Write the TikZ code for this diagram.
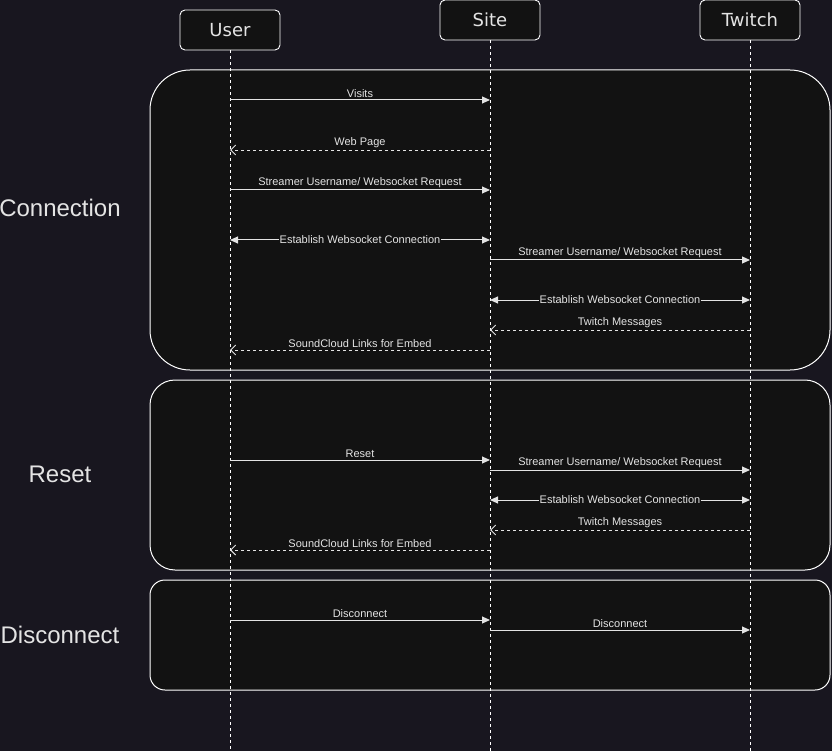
\documentclass[tikz,border=0pt]{standalone}
\usepackage{fontspec}
\setmainfont{Liberation Sans}
\newfontfamily\partfont{DejaVu Sans}
\usetikzlibrary{arrows.meta}
\definecolor{bgdark}{HTML}{18161F}
\definecolor{boxdark}{HTML}{121212}
\definecolor{inkgray}{HTML}{E4E4E4}
\begin{document}
\begin{tikzpicture}
		[x=1pt,y=-1pt,
		participant/.style={draw=white,line width=0.9pt,fill=boxdark,rounded corners=5pt,minimum width=100pt,minimum height=40pt,text=inkgray,font=\partfont\fontsize{18}{20}\selectfont},
		group/.style={draw=white,fill=boxdark,line width=1pt},
		grouplabel/.style={text=inkgray,font=\fontsize{24}{27}\selectfont},
		lifeline/.style={draw=white,dash pattern=on 3pt off 3pt,line width=0.8pt},
		msg/.style={draw=inkgray,line width=1pt,-{Triangle[length=8pt,width=7pt]}},
		both/.style={draw=inkgray,line width=1pt,{Triangle[length=8pt,width=7pt]}-{Triangle[length=8pt,width=7pt]}},
		reply/.style={draw=inkgray,line width=0.9pt,dash pattern=on 3pt off 3pt,-{Straight Barb[length=5pt,width=10pt]}},
		lbl/.style={midway,above,inner sep=1.5pt,text=inkgray,font=\fontsize{11}{13}\selectfont},
		onlbl/.style={midway,fill=boxdark,inner sep=0.5pt,text=inkgray,font=\fontsize{11}{13}\selectfont}]
		\useasboundingbox[fill=bgdark] (0,0) rectangle (832,751);
		% groups
		\draw[group,rounded corners=40pt] (150,70) rectangle (830,370);
		\draw[group,rounded corners=25pt] (150,380) rectangle (830,570);
		\draw[group,rounded corners=15pt] (150,580) rectangle (830,690);
		\node[grouplabel,name=conn] at (60,208) {Connection};
		\node[grouplabel,name=reset] at (60,474) {Reset};
		\node[grouplabel,name=disc] at (60,635) {Disconnect};
		% participants
		\node[participant,name=User] at (230,30) {User};
		\node[participant,name=Site] at (490,20) {Site};
		\node[participant,name=Twitch] at (750,20) {Twitch};
		\foreach \p in {User,Site,Twitch}
		{
			\draw[lifeline] (\p.south) -- (\p |- 0,751);
		}
		% connection
		\draw[msg] (User |- 0,100) -- node[lbl]{Visits} (Site |- 0,100);
		\draw[reply] (Site |- 0,150) -- node[lbl]{Web Page} (User |- 0,150);
		\draw[msg] (User |- 0,190) -- node[lbl]{Streamer Username/ Websocket Request} (Site |- 0,190);
		\draw[both] (User |- 0,240) -- node[onlbl]{Establish Websocket Connection} (Site |- 0,240);
		\draw[msg] (Site |- 0,260) -- node[lbl]{Streamer Username/ Websocket Request} (Twitch |- 0,260);
		\draw[both] (Site |- 0,300) -- node[onlbl]{Establish Websocket Connection} (Twitch |- 0,300);
		\draw[reply] (Twitch |- 0,330) -- node[lbl]{Twitch Messages} (Site |- 0,330);
		\draw[reply] (Site |- 0,350) -- node[lbl]{SoundCloud Links for Embed} (User |- 0,350);
		% reset
		\draw[msg] (User |- 0,460) -- node[lbl]{Reset} (Site |- 0,460);
		\draw[msg] (Site |- 0,470) -- node[lbl]{Streamer Username/ Websocket Request} (Twitch |- 0,470);
		\draw[both] (Site |- 0,500) -- node[onlbl]{Establish Websocket Connection} (Twitch |- 0,500);
		\draw[reply] (Twitch |- 0,530) -- node[lbl]{Twitch Messages} (Site |- 0,530);
		\draw[reply] (Site |- 0,550) -- node[lbl]{SoundCloud Links for Embed} (User |- 0,550);
		% disconnect
		\draw[msg] (User |- 0,620) -- node[lbl]{Disconnect} (Site |- 0,620);
		\draw[msg] (Site |- 0,630) -- node[lbl]{Disconnect} (Twitch |- 0,630);
	\end{tikzpicture}
\end{document}
